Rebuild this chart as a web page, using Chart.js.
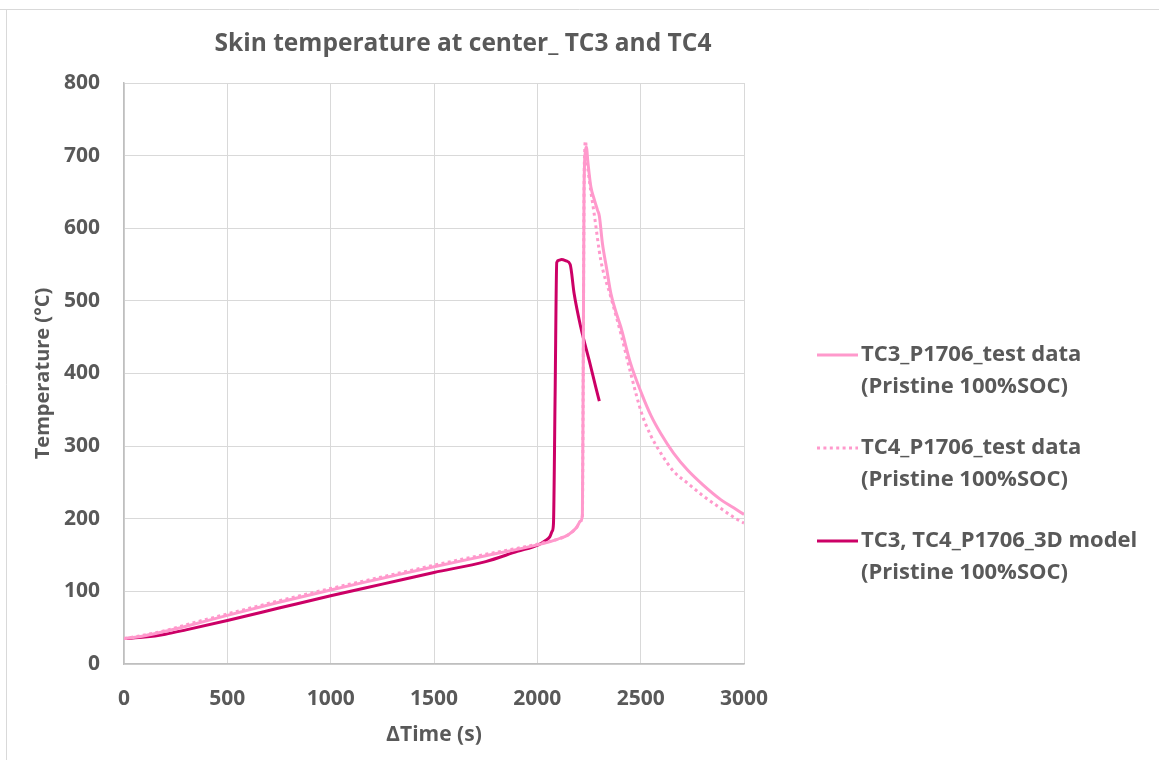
<!DOCTYPE html>
<html>
<head>
<meta charset="utf-8">
<script src="https://cdn.jsdelivr.net/npm/chart.js@4.4.0/dist/chart.umd.min.js"></script>
<style>
  html, body { margin: 0; padding: 0; background: #fff; }
  #wrap { width: 1159px; height: 760px; position: relative; }
</style>
</head>
<body>
<div id="wrap"><canvas id="skinChart"></canvas></div>
<script>
// time (s) and temperature (°C)
const tc3Time = [0, 100, 200, 300, 500, 750, 1000, 1250, 1500, 1750, 2000, 2100, 2150, 2190, 2210, 2218, 2222, 2226, 2232, 2237, 2245, 2259, 2275, 2291, 2300, 2315, 2335, 2356, 2380, 2404, 2450, 2505, 2550, 2598, 2660, 2727, 2800, 2889, 2950, 3000];
const tc3Temp = [35, 39, 45, 52, 67, 85, 102, 118, 134, 149, 164, 172, 178, 188, 197, 205, 400, 650, 705, 712, 690, 657, 640, 625, 617, 579, 545, 510, 485, 464, 415, 372, 342, 317, 290, 267, 247, 226, 215, 206];

const tc4Time = [0, 100, 200, 300, 500, 750, 1000, 1250, 1500, 1750, 2000, 2100, 2150, 2190, 2210, 2218, 2222, 2226, 2230, 2233, 2240, 2252, 2275, 2307, 2356, 2404, 2452, 2505, 2550, 2598, 2660, 2727, 2800, 2889, 2950, 3000];
const tc4Temp = [35, 40, 46, 54, 69, 87, 104, 120, 136, 151, 165, 172, 178, 188, 197, 205, 400, 650, 712, 720, 695, 665, 620, 556, 505, 455, 400, 345, 314, 290, 265, 249, 232, 214, 202, 194];

const modelTime = [0, 100, 200, 300, 500, 750, 1000, 1250, 1500, 1750, 1903, 2005, 2040, 2060, 2072, 2078, 2086, 2094, 2105, 2117, 2140, 2159, 2178, 2210, 2251, 2283, 2300];
const modelTemp = [35, 37, 41, 47, 60, 77, 94, 110, 126, 141, 155, 164, 170, 175, 183, 193, 370, 553, 556, 557, 555, 550, 510, 464, 418, 381, 362];

const legendLabels = [
  ["TC3_P1706_test data", "(Pristine 100%SOC)"],
  ["TC4_P1706_test data", "(Pristine 100%SOC)"],
  ["TC3, TC4_P1706_3D model", "(Pristine 100%SOC)"],
];

const lightPink = "#FF99CC";
const darkPink = "#CC0066";
const textGrey = "#595959";
const fontName = "'Open Sans', sans-serif";

function toPoints(xs, ys) {
  return xs.map((x, i) => ({ x: x, y: ys[i] }));
}

// title, axis titles, legend and outer frame drawn by hand
const decorPlugin = {
  id: "decor",
  afterDraw(chart) {
    const ctx = chart.ctx;
    const area = chart.chartArea;
    ctx.save();

    ctx.strokeStyle = "#d9d9d9";
    ctx.lineWidth = 1;
    ctx.beginPath();
    ctx.moveTo(0, 9.5);
    ctx.lineTo(1159, 9.5);
    ctx.moveTo(6.5, 9.5);
    ctx.lineTo(6.5, 760);
    ctx.stroke();

    ctx.fillStyle = textGrey;
    ctx.textAlign = "center";
    ctx.textBaseline = "alphabetic";
    ctx.font = "bold 24.5px " + fontName;
    ctx.fillText("Skin temperature at center_ TC3 and TC4", 463, 51);

    ctx.font = "bold 21px " + fontName;
    ctx.fillText("\u2206Time (s)", (area.left + area.right) / 2, 741);

    ctx.save();
    ctx.translate(49, (area.top + area.bottom) / 2);
    ctx.rotate(-Math.PI / 2);
    ctx.font = "bold 20px " + fontName;
    ctx.fillText("Temperature (\u00B0C)", 0, 0);
    ctx.restore();

    ctx.font = "bold 22px " + fontName;
    ctx.textAlign = "left";
    ctx.textBaseline = "middle";
    const ds = chart.data.datasets;
    legendLabels.forEach((lines, i) => {
      const y = 355 + i * 93;
      ctx.strokeStyle = ds[i].borderColor;
      ctx.lineWidth = 3;
      ctx.setLineDash(ds[i].borderDash || []);
      ctx.beginPath();
      ctx.moveTo(817, y);
      ctx.lineTo(858, y);
      ctx.stroke();
      ctx.setLineDash([]);
      ctx.fillStyle = textGrey;
      ctx.fillText(lines[0], 861, y);
      ctx.fillText(lines[1], 861, y + 32);
    });

    ctx.restore();
  },
};

const ctx = document.getElementById("skinChart").getContext("2d");

const skinChart = new Chart(ctx, {
  type: "scatter",
  data: {
    datasets: [
      {
        label: legendLabels[0].join(" "),
        data: toPoints(tc3Time, tc3Temp),
        showLine: true,
        borderColor: lightPink,
        borderWidth: 3,
        pointRadius: 0,
        cubicInterpolationMode: "monotone",
      },
      {
        label: legendLabels[1].join(" "),
        data: toPoints(tc4Time, tc4Temp),
        showLine: true,
        borderColor: lightPink,
        borderWidth: 3,
        borderDash: [3, 3.4],
        pointRadius: 0,
        cubicInterpolationMode: "monotone",
      },
      {
        label: legendLabels[2].join(" "),
        data: toPoints(modelTime, modelTemp),
        showLine: true,
        borderColor: darkPink,
        borderWidth: 3,
        pointRadius: 0,
        cubicInterpolationMode: "monotone",
      },
    ],
  },
  options: {
    responsive: true,
    maintainAspectRatio: false,
    animation: false,
    layout: {
      padding: { top: 83, right: 415, left: 0, bottom: 0 },
    },
    plugins: {
      legend: { display: false },
      title: { display: false },
      tooltip: { enabled: false },
    },
    scales: {
      x: {
        type: "linear",
        min: 0,
        max: 3000,
        ticks: {
          stepSize: 500,
          padding: 22,
          color: textGrey,
          font: { family: fontName, weight: "bold", size: 21 },
          callback: (v) => String(v),
        },
        grid: { color: "#d9d9d9", drawTicks: false },
        border: { color: "#bfbfbf", width: 1.5 },
        afterFit(scale) {
          scale.height = 96;
        },
      },
      y: {
        min: 0,
        max: 800,
        ticks: {
          stepSize: 100,
          padding: 24,
          color: textGrey,
          font: { family: fontName, weight: "bold", size: 21 },
        },
        grid: { color: "#d9d9d9", drawTicks: false },
        border: { color: "#bfbfbf", width: 1.5 },
        afterFit(scale) {
          scale.width = 124;
        },
      },
    },
  },
  plugins: [decorPlugin],
});
</script>
</body>
</html>
